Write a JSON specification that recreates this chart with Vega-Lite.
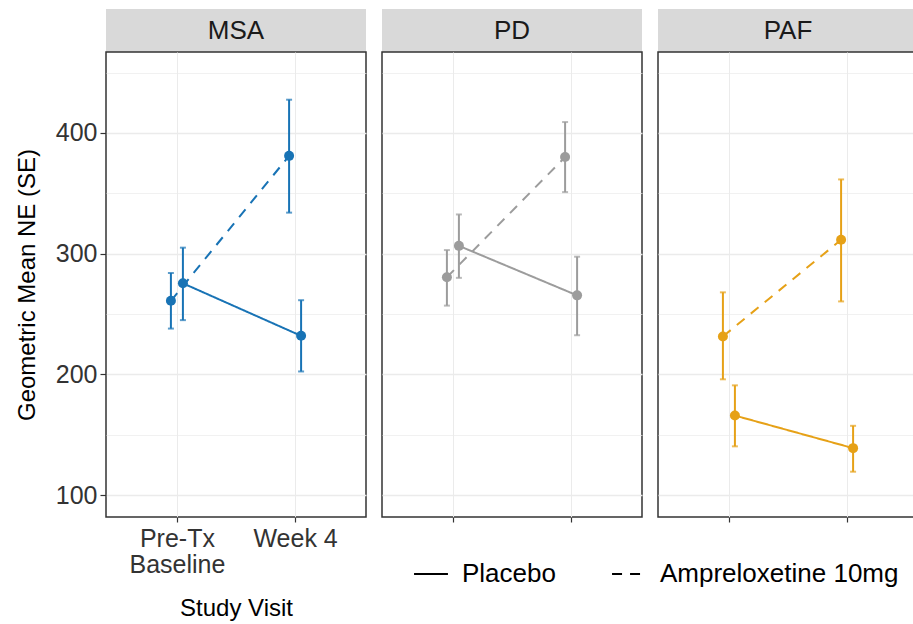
{
  "$schema": "https://vega.github.io/schema/vega-lite/v6.json",
  "padding": {"left": 14, "top": 9, "right": 0, "bottom": 0},
  "spacing": 14,
  "resolve": {"scale": {"strokeDash": "shared"}, "legend": {"strokeDash": "shared"}},
  "datasets": {
    "ne": [
      {"group": "MSA", "visit": "Pre-Tx Baseline", "treatment": "Ampreloxetine 10mg", "mean": 261, "lo": 238, "hi": 284},
      {"group": "MSA", "visit": "Pre-Tx Baseline", "treatment": "Placebo", "mean": 275.5, "lo": 245, "hi": 305},
      {"group": "MSA", "visit": "Week 4", "treatment": "Ampreloxetine 10mg", "mean": 381, "lo": 334, "hi": 427.5},
      {"group": "MSA", "visit": "Week 4", "treatment": "Placebo", "mean": 232, "lo": 202.5, "hi": 261.5},
      {"group": "PD", "visit": "Pre-Tx Baseline", "treatment": "Ampreloxetine 10mg", "mean": 280.5, "lo": 257, "hi": 303},
      {"group": "PD", "visit": "Pre-Tx Baseline", "treatment": "Placebo", "mean": 306.5, "lo": 280, "hi": 332.5},
      {"group": "PD", "visit": "Week 4", "treatment": "Ampreloxetine 10mg", "mean": 380, "lo": 351, "hi": 409},
      {"group": "PD", "visit": "Week 4", "treatment": "Placebo", "mean": 265.5, "lo": 232.5, "hi": 297.5},
      {"group": "PAF", "visit": "Pre-Tx Baseline", "treatment": "Ampreloxetine 10mg", "mean": 231.5, "lo": 196, "hi": 268},
      {"group": "PAF", "visit": "Pre-Tx Baseline", "treatment": "Placebo", "mean": 166, "lo": 140.5, "hi": 191},
      {"group": "PAF", "visit": "Week 4", "treatment": "Ampreloxetine 10mg", "mean": 311.5, "lo": 260.5, "hi": 361.5},
      {"group": "PAF", "visit": "Week 4", "treatment": "Placebo", "mean": 139, "lo": 119.5, "hi": 157.5}
    ]
  },
  "data": {"name": "ne"},
  "hconcat": [
    {
      "vconcat": [
        {
          "width": 260, "height": 43,
          "transform": [{"filter": "datum.group == 'MSA'"}, {"aggregate": [{"op": "count", "as": "n"}], "groupby": ["group"]}],
          "view": {"fill": "#d9d9d9"},
          "mark": {"type": "text", "fontSize": 26, "color": "#1a1a1a", "font": "Liberation Sans"},
          "encoding": {"text": {"field": "group"}}
        },
        {
          "width": 260, "height": 465,
          "transform": [{"filter": "datum.group == 'MSA'"}],
          "encoding": {
            "x": {"field": "visit", "type": "ordinal", "sort": ["Pre-Tx Baseline", "Week 4"], "scale": {"type": "point", "padding": 0.6},
                  "axis": {"title": "Study Visit", "labelAngle": 0, "labelExpr": "datum.value == 'Pre-Tx Baseline' ? ['Pre-Tx', 'Baseline'] : datum.label", "labelLineHeight": 26, "tickSize": 5, "labelPadding": 4, "titlePadding": 19, "domain": false, "grid": true}},
            "xOffset": {"field": "treatment", "type": "nominal", "scale": {"type": "point", "domain": ["Ampreloxetine 10mg", "Placebo"], "range": [-6, 6], "padding": 0}},
            "color": {"field": "group", "type": "nominal", "scale": {"domain": ["MSA", "PD", "PAF"], "range": ["#1873b5", "#9c9c9c", "#e6a117"]}, "legend": null}
          },
          "layer": [
            {"mark": {"type": "rule", "strokeWidth": 2},
             "encoding": {"y": {"field": "lo", "type": "quantitative", "title": "Geometric Mean NE (SE)", "scale": {"domain": [82, 467], "nice": false, "zero": false},
                                "axis": {"values": [100, 150, 200, 250, 300, 350, 400, 450], "labelExpr": "datum.value % 100 === 0 ? datum.label : ''", "tickOpacity": {"condition": {"test": "datum.value % 100 !== 0", "value": 0}, "value": 1}, "gridWidth": {"condition": {"test": "datum.value % 100 !== 0", "value": 0.7}, "value": 1.4}, "domain": false, "tickSize": 6, "labelPadding": 3, "titlePadding": 16, "grid": true}},
                          "y2": {"field": "hi"}}},
            {"mark": {"type": "tick", "size": 6, "thickness": 2}, "encoding": {"y": {"field": "lo", "type": "quantitative", "title": "Geometric Mean NE (SE)"}}},
            {"mark": {"type": "tick", "size": 6, "thickness": 2}, "encoding": {"y": {"field": "hi", "type": "quantitative", "title": "Geometric Mean NE (SE)"}}},
            {"mark": {"type": "line", "strokeWidth": 2},
             "encoding": {"y": {"field": "mean", "type": "quantitative", "title": "Geometric Mean NE (SE)"},
                          "strokeDash": {"field": "treatment", "type": "nominal", "scale": {"domain": ["Placebo", "Ampreloxetine 10mg"], "range": [[1, 0], [10, 8]]},
                                         "legend": {"title": null, "orient": "none", "direction": "horizontal", "legendX": 307, "legendY": 547, "symbolType": "stroke", "symbolSize": 1150, "symbolStrokeWidth": 2, "symbolStrokeColor": "#000000", "labelFontSize": 26, "labelColor": "#000000", "labelFont": "Liberation Sans", "labelOffset": 13, "labelLimit": 400, "columnPadding": 52}}}},
            {"mark": {"type": "point", "filled": true, "size": 100, "opacity": 1}, "encoding": {"y": {"field": "mean", "type": "quantitative", "title": "Geometric Mean NE (SE)"}}}
          ]
        }
      ],
      "spacing": 0,
      "bounds": "flush",
      "resolve": {"scale": {"strokeDash": "shared"}, "legend": {"strokeDash": "shared"}}
    },
    {
      "vconcat": [
        {
          "width": 260, "height": 43,
          "transform": [{"filter": "datum.group == 'PD'"}, {"aggregate": [{"op": "count", "as": "n"}], "groupby": ["group"]}],
          "view": {"fill": "#d9d9d9"},
          "mark": {"type": "text", "fontSize": 26, "color": "#1a1a1a", "font": "Liberation Sans"},
          "encoding": {"text": {"field": "group"}}
        },
        {
          "width": 260, "height": 465,
          "transform": [{"filter": "datum.group == 'PD'"}],
          "encoding": {
            "x": {"field": "visit", "type": "ordinal", "sort": ["Pre-Tx Baseline", "Week 4"], "scale": {"type": "point", "padding": 0.6},
                  "axis": {"title": null, "labels": false, "tickSize": 5, "domain": false, "grid": true}},
            "xOffset": {"field": "treatment", "type": "nominal", "scale": {"type": "point", "domain": ["Ampreloxetine 10mg", "Placebo"], "range": [-6, 6], "padding": 0}},
            "color": {"field": "group", "type": "nominal", "scale": {"domain": ["MSA", "PD", "PAF"], "range": ["#1873b5", "#9c9c9c", "#e6a117"]}, "legend": null}
          },
          "layer": [
            {"mark": {"type": "rule", "strokeWidth": 2},
             "encoding": {"y": {"field": "lo", "type": "quantitative", "title": null, "scale": {"domain": [82, 467], "nice": false, "zero": false},
                                "axis": {"values": [100, 150, 200, 250, 300, 350, 400, 450], "labels": false, "ticks": false, "gridWidth": {"condition": {"test": "datum.value % 100 !== 0", "value": 0.7}, "value": 1.4}, "domain": false, "grid": true}},
                          "y2": {"field": "hi"}}},
            {"mark": {"type": "tick", "size": 6, "thickness": 2}, "encoding": {"y": {"field": "lo", "type": "quantitative", "title": null}}},
            {"mark": {"type": "tick", "size": 6, "thickness": 2}, "encoding": {"y": {"field": "hi", "type": "quantitative", "title": null}}},
            {"mark": {"type": "line", "strokeWidth": 2},
             "encoding": {"y": {"field": "mean", "type": "quantitative", "title": null},
                          "strokeDash": {"field": "treatment", "type": "nominal", "scale": {"domain": ["Placebo", "Ampreloxetine 10mg"], "range": [[1, 0], [10, 8]]},
                                         "legend": {"title": null, "orient": "none", "direction": "horizontal", "legendX": 307, "legendY": 547, "symbolType": "stroke", "symbolSize": 1150, "symbolStrokeWidth": 2, "symbolStrokeColor": "#000000", "labelFontSize": 26, "labelColor": "#000000", "labelFont": "Liberation Sans", "labelOffset": 13, "labelLimit": 400, "columnPadding": 52}}}},
            {"mark": {"type": "point", "filled": true, "size": 100, "opacity": 1}, "encoding": {"y": {"field": "mean", "type": "quantitative", "title": null}}}
          ]
        }
      ],
      "spacing": 0,
      "bounds": "flush",
      "resolve": {"scale": {"strokeDash": "shared"}, "legend": {"strokeDash": "shared"}}
    },
    {
      "vconcat": [
        {
          "width": 260, "height": 43,
          "transform": [{"filter": "datum.group == 'PAF'"}, {"aggregate": [{"op": "count", "as": "n"}], "groupby": ["group"]}],
          "view": {"fill": "#d9d9d9"},
          "mark": {"type": "text", "fontSize": 26, "color": "#1a1a1a", "font": "Liberation Sans"},
          "encoding": {"text": {"field": "group"}}
        },
        {
          "width": 260, "height": 465,
          "transform": [{"filter": "datum.group == 'PAF'"}],
          "encoding": {
            "x": {"field": "visit", "type": "ordinal", "sort": ["Pre-Tx Baseline", "Week 4"], "scale": {"type": "point", "padding": 0.6},
                  "axis": {"title": null, "labels": false, "tickSize": 5, "domain": false, "grid": true}},
            "xOffset": {"field": "treatment", "type": "nominal", "scale": {"type": "point", "domain": ["Ampreloxetine 10mg", "Placebo"], "range": [-6, 6], "padding": 0}},
            "color": {"field": "group", "type": "nominal", "scale": {"domain": ["MSA", "PD", "PAF"], "range": ["#1873b5", "#9c9c9c", "#e6a117"]}, "legend": null}
          },
          "layer": [
            {"mark": {"type": "rule", "strokeWidth": 2},
             "encoding": {"y": {"field": "lo", "type": "quantitative", "title": null, "scale": {"domain": [82, 467], "nice": false, "zero": false},
                                "axis": {"values": [100, 150, 200, 250, 300, 350, 400, 450], "labels": false, "ticks": false, "gridWidth": {"condition": {"test": "datum.value % 100 !== 0", "value": 0.7}, "value": 1.4}, "domain": false, "grid": true}},
                          "y2": {"field": "hi"}}},
            {"mark": {"type": "tick", "size": 6, "thickness": 2}, "encoding": {"y": {"field": "lo", "type": "quantitative", "title": null}}},
            {"mark": {"type": "tick", "size": 6, "thickness": 2}, "encoding": {"y": {"field": "hi", "type": "quantitative", "title": null}}},
            {"mark": {"type": "line", "strokeWidth": 2},
             "encoding": {"y": {"field": "mean", "type": "quantitative", "title": null},
                          "strokeDash": {"field": "treatment", "type": "nominal", "scale": {"domain": ["Placebo", "Ampreloxetine 10mg"], "range": [[1, 0], [10, 8]]},
                                         "legend": {"title": null, "orient": "none", "direction": "horizontal", "legendX": 307, "legendY": 547, "symbolType": "stroke", "symbolSize": 1150, "symbolStrokeWidth": 2, "symbolStrokeColor": "#000000", "labelFontSize": 26, "labelColor": "#000000", "labelFont": "Liberation Sans", "labelOffset": 13, "labelLimit": 400, "columnPadding": 52}}}},
            {"mark": {"type": "point", "filled": true, "size": 100, "opacity": 1}, "encoding": {"y": {"field": "mean", "type": "quantitative", "title": null}}}
          ]
        }
      ],
      "spacing": 0,
      "bounds": "flush",
      "resolve": {"scale": {"strokeDash": "shared"}, "legend": {"strokeDash": "shared"}}
    }
  ],
  "config": {
    "font": "Liberation Sans",
    "view": {"stroke": "#333333", "strokeWidth": 1.5},
    "axis": {"gridColor": "#ebebeb", "tickColor": "#333333", "tickWidth": 1.2, "labelColor": "#333333", "labelFontSize": 25, "titleFontSize": 24, "titleFontWeight": "normal", "titleColor": "#000000", "labelFont": "Liberation Sans", "titleFont": "Liberation Sans"}
  }
}
